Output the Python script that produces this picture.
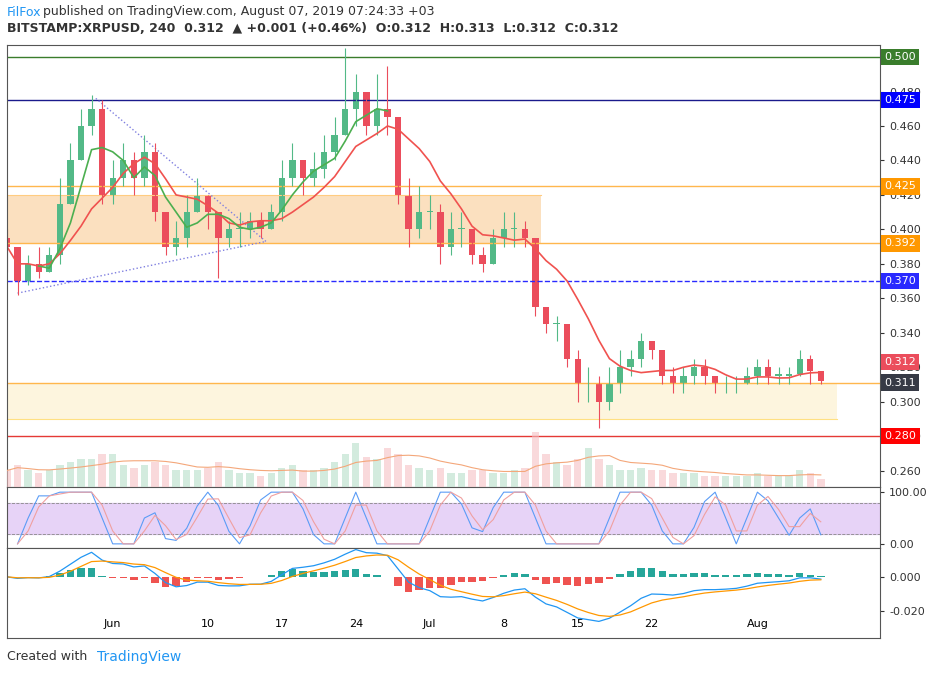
import numpy as np, pandas as pd, matplotlib
matplotlib.use("Agg")
import matplotlib.pyplot as plt, seaborn as sns
from matplotlib.patches import Rectangle

closes = [0.39,0.37,0.38,0.375,0.385,0.415,0.44,0.46,0.47,0.42,
 0.43,0.44,0.43,0.445,0.41,0.39,0.395,0.41,0.42,0.41, 0.395,0.40,0.40,0.405,0.40,0.41,0.43,0.44,0.43,0.435,
 0.445,0.455,0.47,0.48,0.46,0.47,0.465,0.42,0.40,0.41,
 0.41,0.39,0.40,0.40,0.385,0.38,0.395,0.40,0.40,0.395, 0.355,0.345,0.345,0.325,0.31,0.31,0.30,0.31,0.32,0.325,
 0.335,0.33,0.315,0.31,0.315,0.32,0.315,0.31,0.31,0.31, 0.315,
 0.32,0.315,0.315,0.316,0.325,0.318,0.312]
opens = [0.395] + closes[:-1]
highs = [0.40,0.385,0.385,0.39,0.39,0.43,0.45,0.47,0.478,0.475,
 0.44,0.45,0.445,0.455,0.45,0.41,0.405,0.42,0.43,0.42, 0.41,0.405,0.41,0.41,0.41,0.415,0.44,0.45,0.44,0.445,
 0.455,0.465,0.505,0.49,0.48,0.49,0.495,0.465,0.43,0.425,
 0.42,0.415,0.41,0.41,0.40,0.39,0.40,0.41,0.41,0.405, 0.395,0.355,0.35,0.345,0.33,0.32,0.315,0.32,0.33,0.33,
 0.34,0.335,0.33,0.32,0.32,0.325,0.325,0.315,0.315,0.315, 0.32,
 0.325,0.325,0.32,0.32,0.33,0.327,0.318]
lows = [0.375,0.362,0.368,0.372,0.375,0.38,0.415,0.44,0.455,0.415,
 0.415,0.425,0.42,0.425,0.405,0.385,0.385,0.39,0.41,0.40, 0.372,0.39,0.39,0.395,0.395,0.40,0.405,0.425,0.42,0.425,
 0.43,0.44,0.455,0.46,0.455,0.455,0.455,0.415,0.39,0.395,
 0.40,0.38,0.385,0.39,0.38,0.375,0.38,0.39,0.39,0.39, 0.35,0.34,0.335,0.32,0.30,0.30,0.285,0.295,0.305,0.315,
 0.32,0.325,0.31,0.305,0.305,0.31,0.31,0.305,0.305,0.305, 0.31,
 0.31,0.31,0.31,0.31,0.315,0.31,0.31]
volume = [30,40,30,25,30,40,45,50,50,60, 60,40,35,40,45,40,30,30,30,35, 45,30,25,25,20,25,35,40,30,30,
 35,45,60,80,55,50,70,60,40,35, 30,35,25,25,30,30,25,25,30,35, 100,60,45,40,50,70,50,40,30,30,
 35,30,30,25,25,25,20,20,20,20, 20,25,20,20,20,30,25,15]
levels = [(0.500,'#3a7d2c','-','#3a7d2c'),(0.475,'#1a1a8c','-','#0000ff'),(0.425,'#ffb74d','-','#ff9800'),
          (0.392,'#ffb74d','-','#ff9800'),(0.370,'#2a2aff','--','#2a2aff'),(0.311,'#ffb74d','-','#363a45'),
          (0.280,'#e53935','-','#ff0000')]
tick_pos = [10,19,26,33,40,47,54,61,71]
tick_lab = ['Jun','10','17','24','Jul','8','15','22','Aug']

W,H=939,675
fig=plt.figure(figsize=(W/100,H/100),dpi=100)
def ax_at(x0,y0,x1,y1): return fig.add_axes([x0/W,1-y1/H,(x1-x0)/W,(y1-y0)/H])
ax=ax_at(7,45,880,487); ax2=ax_at(7,487,880,548); ax3=ax_at(7,548,880,638)
n=len(closes); x=np.arange(n)
df=pd.DataFrame({'x':x,'c':closes})
df['ma_r']=df.c.rolling(8,min_periods=1).mean()
df['ma_g']=df.c.rolling(4).mean(); df.loc[df.x>36,'ma_g']=np.nan
up='#53b987'; dn='#eb4d5c'
vax=ax.twinx(); vax.set_ylim(0,800); vax.axis('off')
for a in (ax,ax2,ax3):
    a.set_xlim(0,82.6); a.yaxis.tick_right()
    a.tick_params(axis='y',labelsize=8,colors='#333',length=3)
    for s in a.spines.values(): s.set_color('#555'); s.set_linewidth(0.8)
    a.set_xticks(tick_pos); a.tick_params(axis='x',labelbottom=False,length=0)
ax.set_ylim(0.2505,0.507)
ax.set_yticks(np.round(np.arange(0.26,0.50,0.02),2)); ax.yaxis.set_major_formatter(plt.FuncFormatter(lambda v,p:f'{v:.3f}'))
ax.add_patch(Rectangle((0,0.392),50.5,0.028,color='#fbd9b0',alpha=0.8,lw=0))
ax.add_patch(Rectangle((0,0.29),78.5,0.021,color='#fdf3d6',alpha=0.8,lw=0))
ax.plot([0,78.5],[0.29,0.29],color='#ffe082',lw=0.8)
ax.plot([0,50.5],[0.42,0.42],color='#ffcc80',lw=0.8)
for v,c,ls,bc in levels:
    ax.axhline(v,color=c,ls=ls,lw=1)
    ax.text(1.005,v,f'{v:.3f}',transform=ax.get_yaxis_transform(),color='white',fontsize=8,va='center',ha='left',
            bbox=dict(boxstyle='square,pad=0.3',fc=bc,ec='none'))
ax.text(1.005,0.312+0.011,'0.312',transform=ax.get_yaxis_transform(),color='white',fontsize=8,va='center',
        bbox=dict(boxstyle='square,pad=0.3',fc='#eb4d5c',ec='none'))
ax.plot([8.4,24.5],[0.476,0.393],color='#8080e0',ls=':',lw=1)
ax.plot([1,24.5],[0.363,0.393],color='#8080e0',ls=':',lw=1)
vc=['#b7dfc9' if c>=o else '#f5c0c3' for o,c in zip(opens,closes)]
vax.bar(x,volume,width=0.7,color=vc,alpha=0.6)
vax.plot(x,pd.Series(volume).rolling(8,min_periods=1).mean(),color='#f4a77a',lw=0.8)
for i in range(n):
    col=up if closes[i]>=opens[i] else dn
    ax.vlines(i,lows[i],highs[i],color=col,lw=0.8)
    lo=min(opens[i],closes[i]); hh=max(abs(closes[i]-opens[i]),0.0008)
    ax.add_patch(Rectangle((i-0.3,lo),0.6,hh,color=col,lw=0))
sns.lineplot(data=df,x='x',y='ma_r',ax=ax,color='#f0524f',lw=1.2)
sns.lineplot(data=df,x='x',y='ma_g',ax=ax,color='#4caf50',lw=1.2)
ax.set_xlabel(''); ax.set_ylabel('')
# stoch rsi
d=pd.Series(closes).diff(); g=d.clip(lower=0).rolling(4,min_periods=1).mean(); l=(-d.clip(upper=0)).rolling(4,min_periods=1).mean()
rsi=100-100/(1+g/(l+1e-9))
st=(rsi-rsi.rolling(4,min_periods=1).min())/(rsi.rolling(4,min_periods=1).max()-rsi.rolling(4,min_periods=1).min()+1e-9)*100
k=st.rolling(2,min_periods=1).mean(); dd=k.rolling(2,min_periods=1).mean()
ax2.set_ylim(-8,110); ax2.axhspan(20,80,color='#e1c8f5',alpha=0.8)
ax2.axhline(80,color='#888',ls='--',lw=0.6); ax2.axhline(20,color='#888',ls='--',lw=0.6)
sns.lineplot(x=x,y=k.values,ax=ax2,color='#5b9cf6',lw=0.8); sns.lineplot(x=x,y=dd.values,ax=ax2,color='#f0a0a0',lw=0.8)
ax2.set_yticks([0,100]); ax2.set_yticklabels(['0.00','100.00'])
# macd
c=pd.Series(closes); m=c.ewm(span=6).mean()-c.ewm(span=13).mean(); s=m.ewm(span=5).mean(); h=m-s
ax3.set_ylim(-0.036,0.017)
hc=['#26a69a' if v>=0 else '#ef5350' for v in h]
ax3.bar(x,h,width=0.7,color=hc)
sns.lineplot(x=x,y=m.values,ax=ax3,color='#2196f3',lw=0.9); sns.lineplot(x=x,y=s.values,ax=ax3,color='#ff9800',lw=0.9)
ax3.set_yticks([0,-0.02]); ax3.set_yticklabels(['0.000','-0.020'])
ax3.tick_params(axis='x',labelbottom=True,labelsize=8,length=0,pad=-14); ax3.set_xticklabels(tick_lab)
fig.text(7/W,1-12/H,'FilFox',color='#2196f3',fontsize=9,va='center')
fig.text(43/W,1-12/H,'published on TradingView.com, August 07, 2019 07:24:33 +03',color='#333',fontsize=9,va='center')
fig.text(7/W,1-29/H,'BITSTAMP:XRPUSD, 240  0.312  ▲ +0.001 (+0.46%)  O:0.312  H:0.313  L:0.312  C:0.312',color='#333',fontsize=9,va='center',fontweight='bold')
fig.text(7/W,1-657/H,'Created with',color='#333',fontsize=9,va='center')
fig.text(97/W,1-657/H,'TradingView',color='#2196f3',fontsize=10,va='center')
fig.savefig('out.png',dpi=100)
